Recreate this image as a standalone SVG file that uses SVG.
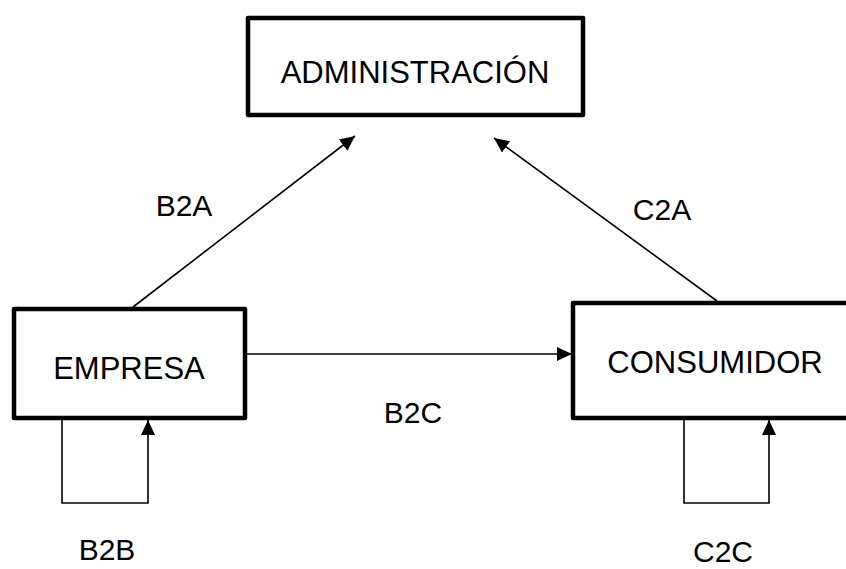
<svg xmlns="http://www.w3.org/2000/svg" width="846" height="569" viewBox="0 0 846 569">
<style>
.box{fill:#fff;stroke:#000;stroke-width:4.5;stroke-linejoin:round}
.t{font-family:"Liberation Sans",Arial,sans-serif;font-size:31px;fill:#000;text-anchor:middle}
.l{font-family:"Liberation Sans",Arial,sans-serif;font-size:30px;fill:#000;text-anchor:middle}
.c{fill:none;stroke:#000;stroke-width:1.6}
</style>
<defs>
<marker id="ah" markerUnits="userSpaceOnUse" markerWidth="16" markerHeight="14" refX="15" refY="7" orient="auto">
<path d="M0,0 L15,7 L0,14 Z" fill="#000"/>
</marker>
</defs>
<rect width="846" height="569" fill="#fff"/>
<g id="connectors">
<line class="c" x1="133" y1="307" x2="355" y2="136" marker-end="url(#ah)"/>
<line class="c" x1="717" y1="301" x2="494" y2="138" marker-end="url(#ah)"/>
<line class="c" x1="246" y1="354" x2="572" y2="354" marker-end="url(#ah)"/>
<polyline class="c" points="62,420 62,503 148,503 148,420" marker-end="url(#ah)"/>
<polyline class="c" points="684,420 684,503 769,503 769,420" marker-end="url(#ah)"/>
</g>
<g id="administracion">
<rect class="box" x="248" y="18" width="335" height="97"/>
<text class="t" x="415" y="83">ADMINISTRACIÓN</text>
</g>
<g id="empresa">
<rect class="box" x="14" y="309" width="231" height="109"/>
<text class="t" x="129" y="379">EMPRESA</text>
</g>
<g id="consumidor">
<rect class="box" x="573" y="303" width="280" height="115"/>
<text class="t" x="715" y="373">CONSUMIDOR</text>
</g>
<g id="labels">
<text class="l" x="184" y="216">B2A</text>
<text class="l" x="662" y="220">C2A</text>
<text class="l" x="413" y="423">B2C</text>
<text class="l" x="107" y="560">B2B</text>
<text class="l" x="723" y="562">C2C</text>
</g>
</svg>
